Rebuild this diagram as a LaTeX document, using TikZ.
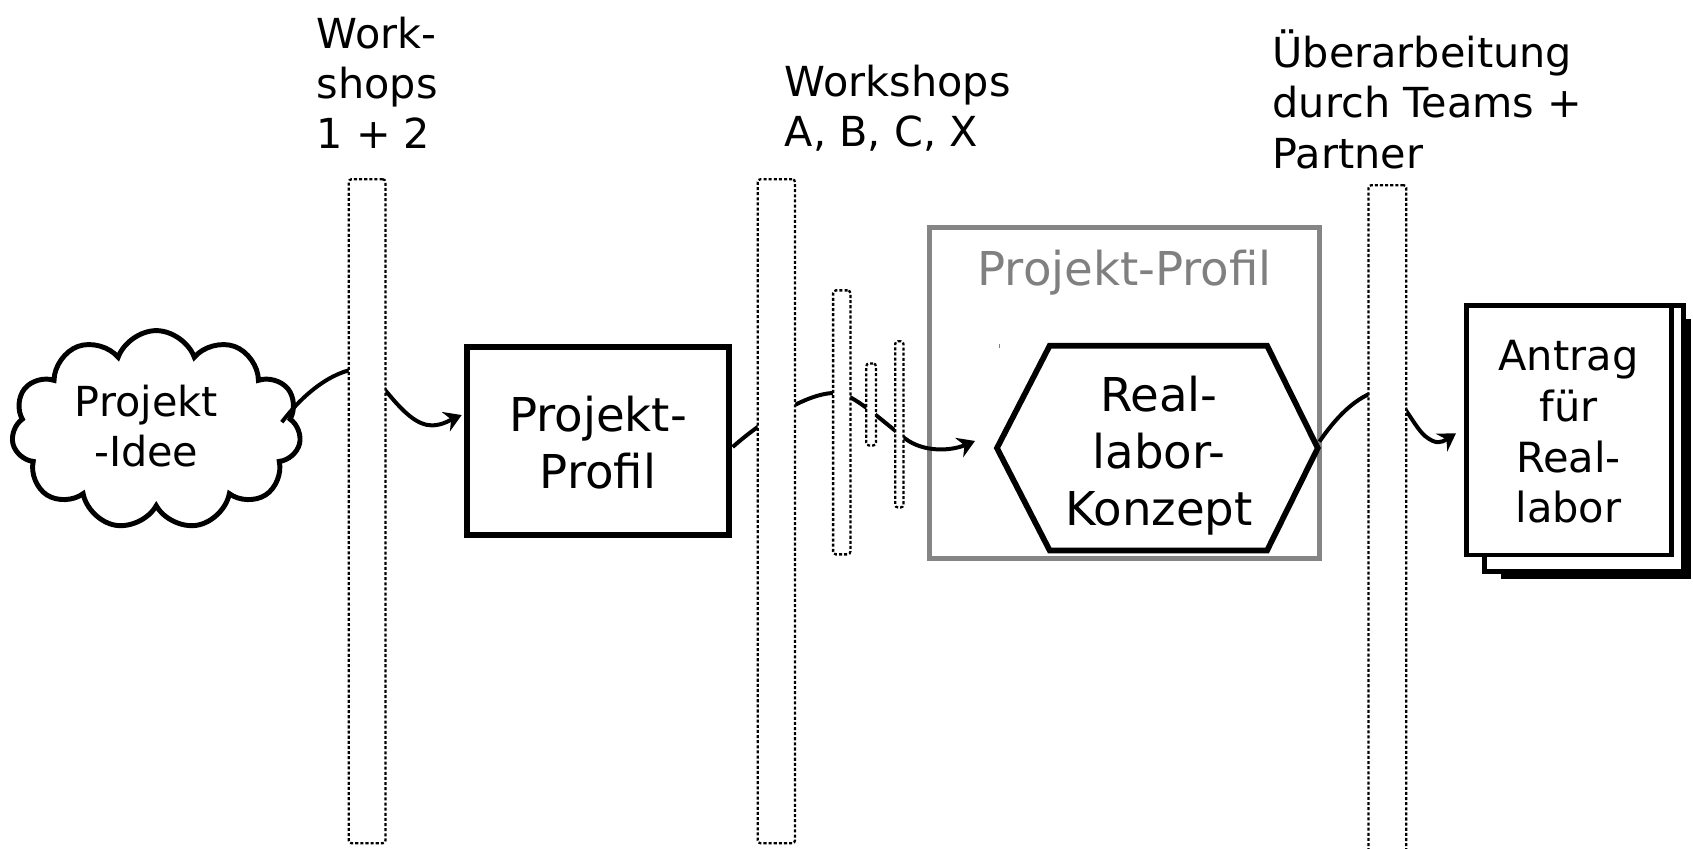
\documentclass[tikz,border=0pt]{standalone}
\usepackage{fontspec}
\setmainfont{DejaVu Sans}
\usetikzlibrary{shapes.symbols, arrows.meta, calc}
\newcommand\px{0.02cm}
\newcommand\fsm{\fontsize{21.8pt}{26.45pt}\selectfont}
\newcommand\fan{\fontsize{21.9pt}{26.75pt}\selectfont}
\newcommand\fbg{\fontsize{24.6pt}{29.87pt}\selectfont}
\newcommand\mlines[2]{\begin{tabular}[t]{@{}#1@{}}#2\end{tabular}}
\definecolor{framegray}{HTML}{858585}
\definecolor{textgray}{HTML}{808080}
\begin{document}
\begin{tikzpicture}[x=0.02cm, y=-0.02cm,
  txt/.style={inner sep=0pt, outer sep=0pt},
  bar/.style={draw=black, fill=white, line width=1.2pt, dash pattern=on 1.6pt off 1.1pt, rounded corners=1.5pt, inner sep=0pt},
  conn/.style={line width=2.1pt, -{Stealth[length=9pt,width=11pt,inset=3pt]}},
  thickbox/.style={draw=black, line width=3pt, fill=white, inner sep=0pt},
  page/.style={draw=black, line width=2.6pt, fill=white, inner sep=0pt},
  frame/.style={draw=framegray, line width=2.6pt, inner sep=0pt},
  hexline/.style={draw=black, line width=3pt, fill=white, line join=miter},
]
\useasboundingbox (0,0) rectangle (1568,786);
\fill[white] (0,0) rectangle (1568,786);

% shapes
\node[cloud, cloud puffs=11, cloud puff arc=140, cloud ignores aspect, draw, fill=white,
      line width=2.6pt, minimum width=268*\px, minimum height=184*\px, inner sep=0pt] (idea) at (144.7,398.2) {};
\node[thickbox, minimum width=242.1*\px, minimum height=174*\px] (pp) at (553.85,408.5) {};
\node[frame, minimum width=361.2*\px, minimum height=306.5*\px] (pframe) at (1041.3,363.75) {};
\node[inner sep=0pt, minimum width=296.4*\px, minimum height=188.9*\px] (hex) at (1071.9,415) {};
\draw[hexline] (hex.west) -- ($(hex.north west)+(48.8,0)$) -- ($(hex.north east)+(-46.9,0)$)
   -- (hex.east) -- ($(hex.south east)+(-46.9,0)$) -- ($(hex.south west)+(48.8,0)$) -- cycle;
\draw[textgray, line width=0.6pt] (925.6,318.5) -- (925.6,322.5);

\node[fill=black, inner sep=0pt, minimum width=176*\px, minimum height=241*\px] (page3) at (1478,415.5) {};
\node[page, minimum width=184.5*\px, minimum height=246.7*\px] (page2) at (1466.75,406.15) {};
\node[page, minimum width=190*\px, minimum height=231.2*\px] (page1) at (1453,398.4) {};

% connectors
\coordinate (c1s) at (261,391);
\coordinate (c1e) at (427.6,384.4);
\coordinate (c2s) at ($(pp.east)+(1,5.5)$);
\coordinate (c2e) at (903,408.4);
\coordinate (c3s) at (1222,409);
\coordinate (c3e) at (1348.5,401.3);
\draw[conn] (c1s) .. controls (280,366) and (306,344) .. (333,341)
  .. controls (348,340) and (372,394) .. (400,394)
  .. controls (410,394) and (419,388) .. (c1e);
\draw[conn] (c2s) .. controls (690,404) and (705,392) .. (720,384)
  .. controls (740,372) and (760,363) .. (776,364)
  .. controls (790,365) and (815,388) .. (838,406)
  .. controls (855,419) and (880,418) .. (c2e);
\draw[conn] (c3s) .. controls (1235,390) and (1255,366) .. (1280,361)
  .. controls (1294,359) and (1308,394) .. (1320,404)
  .. controls (1330,412) and (1335,410) .. (c3e);

% bars
\node[bar, minimum width=34*\px, minimum height=615*\px] (bar1) at (340,473.5) {};
\node[bar, minimum width=34.6*\px, minimum height=615*\px] (bar2) at (719,473.5) {};
\node[bar, minimum width=35*\px, minimum height=658.5*\px] (bar3) at (1285,500.75) {};
\node[bar, minimum width=16*\px, minimum height=244.5*\px] (bar4) at (779.6,391.2) {};
\node[bar, minimum width=9*\px, minimum height=76*\px] (bar5) at (806.8,374.6) {};
\node[bar, minimum width=7.7*\px, minimum height=154*\px] (bar6) at (832.9,393) {};

% texts
\node[txt, font=\fsm, anchor=base west] (lab1) at (293.3,44.8) {\mlines{l}{Work-\\shops\\1 + 2}};
\node[txt, font=\fsm, anchor=base west] (lab2) at (727,89.5) {\mlines{l}{Workshops\\A, B, C, X}};
\node[txt, font=\fsm, anchor=base west] (lab3) at (1178.7,62.7) {\mlines{l}{Überarbeitung\\durch Teams +\\Partner}};
\node[txt, font=\fsm, anchor=base] (ideatext) at (135.5,385.9) {\mlines{c}{Projekt\\-Idee}};
\node[txt, font=\fbg, anchor=base] (pptext) at (553.9,399.8) {\mlines{c}{Projekt-\\Profil}};
\node[txt, font=\fbg, anchor=base, text=textgray] (frametext) at (1041.6,264) {Projekt-Profil};
\node[txt, font=\fbg, anchor=base] (hextext) at (1073.4,381.3) {\mlines{c}{Real-\\labor-\\Konzept}};
\node[txt, font=\fan, anchor=base] (antrag) at (1452.6,343.3) {\mlines{c}{Antrag\\für\\Real-\\labor}};
\end{tikzpicture}
\end{document}
